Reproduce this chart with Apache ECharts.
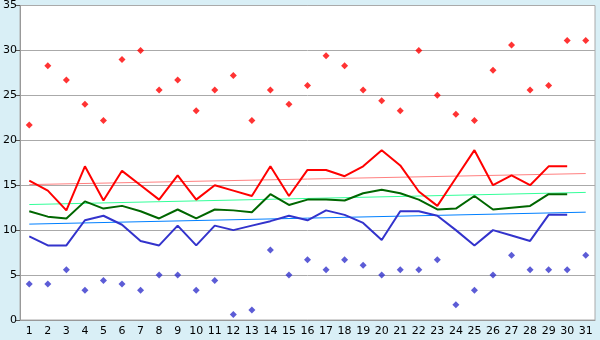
<!DOCTYPE html>
<html><head><meta charset="utf-8">
<script src="https://cdn.jsdelivr.net/npm/echarts@6/dist/echarts.min.js"></script>
<style>html,body{margin:0;padding:0;background:#d9eff6;}#c{width:600px;height:340px;}</style>
</head><body><div id="c"></div>
<script>
var categories = ['1','2','3','4','5','6','7','8','9','10','11','12','13','14','15','16','17','18','19','20','21','22','23','24','25','26','27','28','29','30','31'];
var maxPoints = [21.7,28.3,26.7,24.0,22.2,29.0,30.0,25.6,26.7,23.3,25.6,27.2,22.2,25.6,24.0,26.1,29.4,28.3,25.6,24.4,23.3,30.0,25.0,22.9,22.2,27.8,30.6,25.6,26.1,31.1,31.1];
var minPoints = [4.0,4.0,5.6,3.3,4.4,4.0,3.3,5.0,5.0,3.3,4.4,0.6,1.1,7.8,5.0,6.7,5.6,6.7,6.1,5.0,5.6,5.6,6.7,1.7,3.3,5.0,7.2,5.6,5.6,5.6,7.2];
var redLine = [15.5,14.4,12.2,17.1,13.3,16.6,15.0,13.4,16.1,13.4,15.0,14.4,13.8,17.1,13.8,16.7,16.7,16.0,17.1,18.9,17.2,14.3,12.7,15.8,18.9,15.0,16.1,15.0,17.1,17.1,null];
var greenLine = [12.1,11.5,11.3,13.2,12.4,12.7,12.1,11.3,12.3,11.3,12.3,12.2,12.0,14.0,12.8,13.4,13.4,13.3,14.1,14.5,14.1,13.4,12.3,12.4,13.8,12.3,12.5,12.7,14.0,14.0,null];
var blueLine = [9.3,8.3,8.3,11.1,11.6,10.6,8.8,8.3,10.5,8.3,10.5,10.0,10.5,11.0,11.6,11.1,12.2,11.7,10.8,8.9,12.1,12.1,11.6,10.0,8.3,10.0,9.4,8.8,11.7,11.7,null];
var redTrendEnds = [15.07, 16.3];
var greenTrendEnds = [12.85, 14.2];
var blueTrendEnds = [10.67, 12.0];
var yTicks = [0,5,10,15,20,25,30,35];

function ends(e){var a=categories.map(function(){return null;});a[0]=e[0];a[a.length-1]=e[1];return a;}

var chart = echarts.init(document.getElementById('c'));
var font = 'DejaVu Sans';
function lineS(data,color,w,z){return {type:'line',data:data,symbol:'none',connectNulls:true,lineStyle:{color:color,width:w},z:z,animation:false,silent:true};}
function scat(data,color){return {type:'scatter',data:data,symbol:'diamond',symbolSize:7,itemStyle:{color:color},z:5,animation:false};}
chart.setOption({
  backgroundColor:'#d9eff6',
  animation:false,
  grid:{left:20,top:5,width:575,height:315,show:true,backgroundColor:'#ffffff',borderColor:'#aaaaaa',borderWidth:1},
  xAxis:{type:'category',data:categories,boundaryGap:true,
    axisLine:{lineStyle:{color:'#999999'}},
    axisTick:{alignWithLabel:true,length:4,lineStyle:{color:'#555555'}},
    axisLabel:{color:'#000000',fontFamily:font,fontSize:11,margin:6,interval:0}},
  yAxis:{type:'value',min:yTicks[0],max:yTicks[yTicks.length-1],interval:5,
    axisLine:{show:true,lineStyle:{color:'#999999'}},
    axisTick:{show:true,length:4,lineStyle:{color:'#555555'}},
    axisLabel:{color:'#000000',fontFamily:font,fontSize:11,margin:3},
    splitLine:{lineStyle:{color:'#aaaaaa',width:1}}},
  series:[
    lineS(ends(redTrendEnds),'#ff8080',1,2),
    lineS(ends(greenTrendEnds),'#33ff99',1,2),
    lineS(ends(blueTrendEnds),'#0080ff',1,2),
    lineS(redLine,'#ff0000',2,3),
    lineS(greenLine,'#006600',2,3),
    lineS(blueLine,'#3333cc',2,3),
    scat(maxPoints,'#ff0000'),
    scat(minPoints,'#3333cc')
  ]
});
</script></body></html>
